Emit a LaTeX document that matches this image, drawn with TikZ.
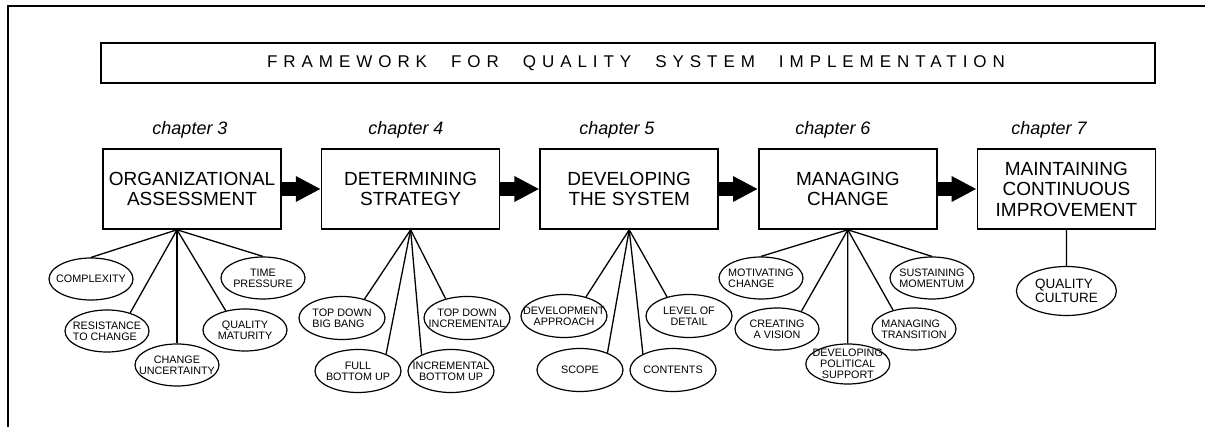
\documentclass[tikz,border=0pt]{standalone}
\usepackage{fontspec}
\setmainfont{Liberation Sans}
\newfontfamily\titlefont[LetterSpace=35]{Liberation Sans}
\usetikzlibrary{arrows.meta,positioning,shapes.geometric}

\begin{document}
\begin{tikzpicture}[
    x=1pt, y=-1pt,
    chapbox/.style={
    rectangle,
    draw=black,
    line width=1.6pt,
    minimum width=178pt,
    minimum height=80pt,
    inner sep=0pt,
    align=center,
    font=\fontsize{19}{20.5}\selectfont},
    chaplabel/.style={font=\fontsize{18}{20}\selectfont\itshape},
    ovaltext/.style={font=\fontsize{10.8}{11}\selectfont, inner sep=0pt},
    oval/.style 2 args={
    ellipse,
    draw=black,
    line width=1.2pt,
    minimum width=84pt,
    minimum height=42pt,
    inner sep=0pt,
    label={[ovaltext, align=#1]center:#2}},
    bigoval/.style={minimum width=86pt, minimum height=43pt},
    bigarrow/.style={line width=14pt, -{Triangle[length=25pt,width=24pt]}},
    stem/.style={line width=1.3pt},
    node distance=39pt
    ]
    \useasboundingbox (0,0) rectangle (1205,427);

    % frame and heading
    \draw[line width=2pt] (1205,6) -- (8,6) -- (8,427);
    \node[draw, line width=1.6pt, minimum width=1054pt, minimum height=40pt,
          font=\titlefont\fontsize{17}{20}\selectfont] (title) at (628,63)
        {\hspace*{16pt}FRAMEWORK\hspace{24pt}FOR\hspace{24pt}QUALITY\hspace{24pt}SYSTEM\hspace{24pt}IMPLEMENTATION};

    % the five stages
    \node[chapbox] (orgAssess) at (192,189) {ORGANIZATIONAL\\ASSESSMENT};
    \node[chapbox, right= of orgAssess] (detStrategy) {DETERMINING\\STRATEGY};
    \node[chapbox, right= of detStrategy] (devSystem) {DEVELOPING\\THE SYSTEM};
    \node[chapbox, right= of devSystem] (manChange) {MANAGING\\CHANGE};
    \node[chapbox, right= of manChange] (maintImprove) {MAINTAINING\\CONTINUOUS\\IMPROVEMENT};

    \node[chaplabel] (chapA) at (190,130) {chapter 3};
    \node[chaplabel] (chapB) at (406,130) {chapter 4};
    \node[chaplabel] (chapC) at (617,130) {chapter 5};
    \node[chaplabel] (chapD) at (833,130) {chapter 6};
    \node[chaplabel] (chapE) at (1049,130) {chapter 7};

    \draw[bigarrow] (orgAssess) -- (detStrategy);
    \draw[bigarrow] (detStrategy) -- (devSystem);
    \draw[bigarrow] (devSystem) -- (manChange);
    \draw[bigarrow] (manChange) -- (maintImprove);

    % organizational assessment
    \node[oval={center}{COMPLEXITY}] (complexity) at (91,279) {};
    \node[oval={left}{RESISTANCE\\TO CHANGE}] (resistance) at (107,331) {};
    \node[oval={center}{CHANGE\\UNCERTAINTY}] (uncertainty) at (177,365) {};
    \node[oval={center}{QUALITY\\MATURITY}] (maturity) at (245,330) {};
    \node[oval={center}{TIME\\PRESSURE}] (timePressure) at (263,278) {};

    \coordinate (rootA) at ([xshift=-15pt]orgAssess.south);
    \draw[stem] (rootA) -- (complexity.north);
    \draw[stem] (rootA) -- (resistance.38);
    \draw[stem] (rootA) -- (uncertainty.north);
    \draw[stem] (rootA) -- (maturity.135);
    \draw[stem] (rootA) -- (timePressure.north);

    % determining strategy
    \node[oval={left}{TOP DOWN\\BIG BANG}, bigoval] (bigBang) at (342,318) {};
    \node[oval={center}{FULL\\BOTTOM UP}, bigoval] (fullBottomUp) at (358,371) {};
    \node[oval={center}{INCREMENTAL\\BOTTOM UP}, bigoval] (incrBottomUp) at (451,371) {};
    \node[oval={center}{TOP DOWN\\INCREMENTAL}, bigoval] (topDownIncr) at (467,318) {};

    \draw[stem] (detStrategy.south) -- (bigBang.40);
    \draw[stem] (detStrategy.south) -- (fullBottomUp.31);
    \draw[stem] (detStrategy.south) -- (incrBottomUp.151);
    \draw[stem] (detStrategy.south) -- (topDownIncr.138);

    % developing the system
    \node[oval={center}{DEVELOPMENT\\APPROACH}, bigoval] (devApproach) at (564,316) {};
    \node[oval={center}{SCOPE}, bigoval] (scope) at (580,370) {};
    \node[oval={center}{CONTENTS}, bigoval] (contents) at (673,370) {};
    \node[oval={center}{LEVEL OF\\DETAIL}, bigoval] (levelDetail) at (689,316) {};

    \draw[stem] (devSystem.south) -- (devApproach.41);
    \draw[stem] (devSystem.south) -- (scope.32);
    \draw[stem] (devSystem.south) -- (contents.152);
    \draw[stem] (devSystem.south) -- (levelDetail.139);

    % managing change
    \node[oval={left}{MOTIVATING\\CHANGE}] (motivating) at (761,278) {};
    \node[oval={center}{CREATING\\A VISION}] (vision) at (777,329) {};
    \node[oval={center}{DEVELOPING\\POLITICAL\\SUPPORT}, minimum height=40pt] (political) at (847.8,364) {};
    \node[oval={left}{MANAGING\\TRANSITION}] (transition) at (914,329) {};
    \node[oval={left}{SUSTAINING\\MOMENTUM}] (momentum) at (932,278) {};

    \draw[stem] (manChange.south) -- (motivating.north);
    \draw[stem] (manChange.south) -- (vision.36);
    \draw[stem] (manChange.south) -- (political.north);
    \draw[stem] (manChange.south) -- (transition.138);
    \draw[stem] (manChange.south) -- (momentum.north);

    % maintaining improvement
    \begin{scope}[ovaltext/.style={font=\fontsize{13.5}{14.5}\selectfont, inner sep=0pt}]
    \node[oval={left}{QUALITY\\CULTURE}, minimum width=100pt, minimum height=49pt] (culture) at (1066.4,291) {};
    \end{scope}
    \draw[stem] (maintImprove.south) -- (culture.north);
\end{tikzpicture}
\end{document}
